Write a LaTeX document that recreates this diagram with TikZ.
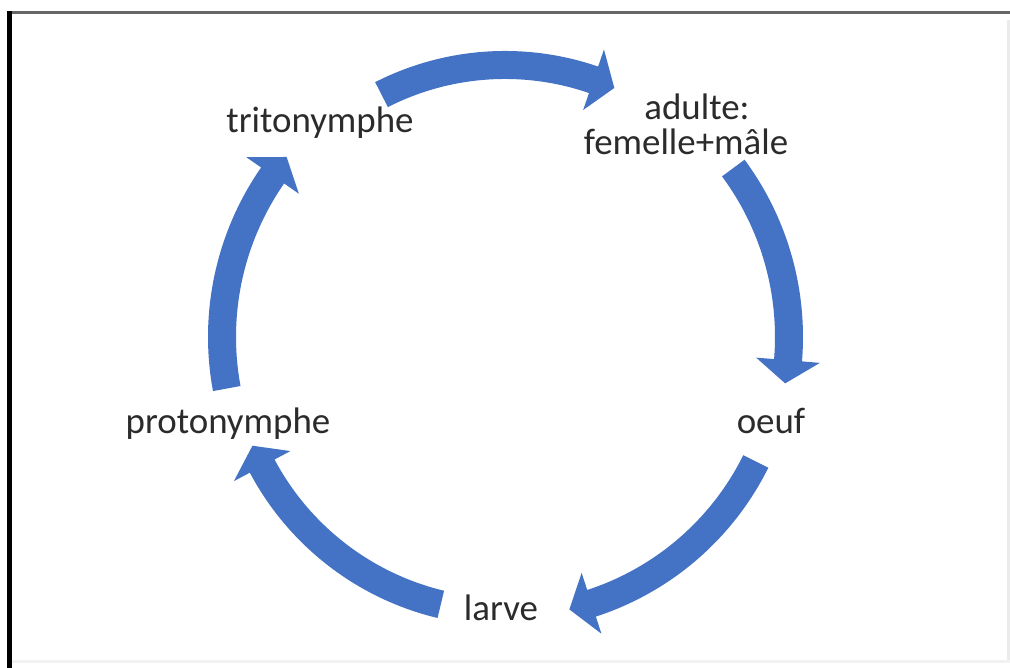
\documentclass[tikz,border=0pt]{standalone}
\usepackage{fontspec}
\setmainfont{Carlito}
\usetikzlibrary{calc}
\definecolor{cycleblue}{HTML}{4472C4}
\definecolor{labelgray}{HTML}{2B2B2B}
\tikzset{
  stagelabel/.style={font=\fontsize{10.5pt}{12pt}\selectfont, text=labelgray, anchor=base, inner sep=0pt},
  cyclefill/.style={fill=cycleblue},
}
% #1 centre name, #2 mid radius, #3 tail angle, #4 head base angle, #5 tip angle
\newcommand\cyclearrow[5]{%
  \pgfmathsetmacro\cyRo{#2+0.14}%
  \pgfmathsetmacro\cyRi{#2-0.14}%
  \pgfmathsetmacro\cyHo{#2+0.32}%
  \pgfmathsetmacro\cyHi{#2-0.32}%
  \fill[cyclefill] ($(#1)+(#3:\cyRo)$) arc[start angle=#3, end angle=#4, radius=\cyRo]
    -- ($(#1)+(#4:\cyHo)$) -- ($(#1)+(#5:#2)$) -- ($(#1)+(#4:\cyHi)$)
    -- ($(#1)+(#4:\cyRi)$) arc[start angle=#4, end angle=#3, radius=\cyRi] -- cycle;}
\begin{document}
\begin{tikzpicture}
\useasboundingbox (0,0) rectangle (10.10,6.68);
\fill[white] (0,0) rectangle (10.10,6.68);
% frame
\draw[black!8, line width=0.3mm] (10.08,6.48) -- (10.08,0.06);
\draw[black!5, line width=0.3mm] (0.12,0.06) -- (10.10,0.06);
\draw[black!60, line width=0.22mm] (0.07,6.555) -- (10.10,6.555);
\draw[black, line width=0.5mm] (0.095,6.57) -- (0.095,0);
% labels
\node[stagelabel] (tri) at (3.20,5.35) {tritonymphe};
\node[stagelabel] (adu) at (6.97,5.48) {adulte:};
\node[stagelabel] (fem) at (6.86,5.13) {femelle+mâle};
\node[stagelabel] (oeuf) at (7.71,2.34) {oeuf};
\node[stagelabel] (larve) at (5.01,0.47) {larve};
\node[stagelabel] (proto) at (2.28,2.34) {protonymphe};
% cycle arrows
\coordinate (C) at (5.05,3.31);
\cyclearrow{C}{2.72}{117}{71}{66.3}
\cyclearrow{C}{2.84}{36.5}{-4.7}{-9.4}
\cyclearrow{C}{2.80}{-26.4}{-72}{-76.7}
\cyclearrow{C}{2.75}{256.5}{208}{203.3}
\cyclearrow{C}{2.83}{190.5}{145.2}{140.5}
\end{tikzpicture}
\end{document}
